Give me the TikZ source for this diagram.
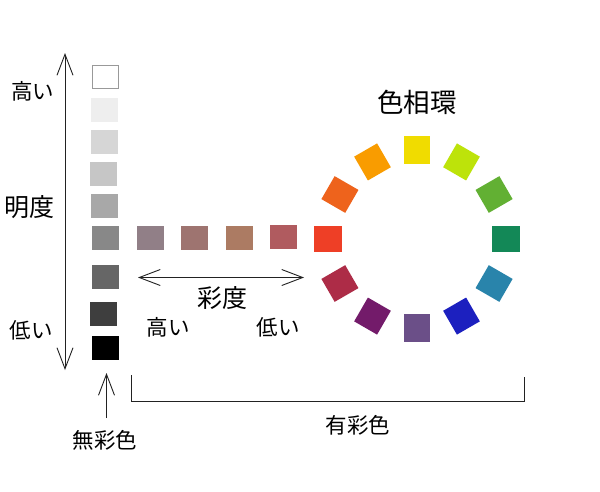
\documentclass[tikz,border=0pt]{standalone}
\usepackage{fontspec}
\newfontfamily\jp{Noto Sans CJK JP}
\usetikzlibrary{arrows.meta,calc}
\definecolor{g1}{HTML}{FFFFFF}
\definecolor{g2}{HTML}{EEEEEE}
\definecolor{g3}{HTML}{D6D6D6}
\definecolor{g4}{HTML}{C6C6C6}
\definecolor{g5}{HTML}{A8A8A8}
\definecolor{g6}{HTML}{888888}
\definecolor{g7}{HTML}{666666}
\definecolor{g8}{HTML}{3E3E3E}
\definecolor{g9}{HTML}{000000}
\definecolor{c1}{HTML}{917F87}
\definecolor{c2}{HTML}{9E7470}
\definecolor{c3}{HTML}{AC7B63}
\definecolor{c4}{HTML}{B05B5F}
\definecolor{h0}{HTML}{138857}
\definecolor{h30}{HTML}{62B033}
\definecolor{h60}{HTML}{BDE30A}
\definecolor{h90}{HTML}{F0DC00}
\definecolor{h120}{HTML}{F99C00}
\definecolor{h150}{HTML}{EE631C}
\definecolor{h180}{HTML}{EE3F26}
\definecolor{h210}{HTML}{AD2C47}
\definecolor{h240}{HTML}{731B6A}
\definecolor{h270}{HTML}{6B4F88}
\definecolor{h300}{HTML}{1C20BF}
\definecolor{h330}{HTML}{2984AB}
\definecolor{linec}{HTML}{222222}
\tikzset{
  graysq/.style={minimum width=27pt,minimum height=24pt,inner sep=0pt,draw=none},
  chromasq/.style={minimum width=27pt,minimum height=24pt,inner sep=0pt,draw=none},
  huesq/.style={minimum width=27.5pt,minimum height=26.5pt,inner sep=0pt,draw=none},
  lbl/.style={font=\jp\fontsize{21.5}{24}\selectfont,inner sep=0pt,text=black},
  biglbl/.style={font=\jp\fontsize{25}{28}\selectfont,inner sep=0pt,text=black},
  conn/.style={draw=linec,line width=0.9pt},
  barb/.tip={Straight Barb[length=21pt,width=16pt,line width=0.9pt]}
}
\begin{document}
\begin{tikzpicture}[x=1pt,y=1pt]
\useasboundingbox[fill=white] (0,-491) rectangle (600,0);
% gray column
\node[graysq,fill=g1,draw=black!40,line width=0.8pt,minimum width=26pt,minimum height=23pt] (s1) at (105.5,-76.5) {};
\node[graysq,fill=g2] (s2) at (104.5,-110) {};
\node[graysq,fill=g3] (s3) at (104.5,-142) {};
\node[graysq,fill=g4] (s4) at (103.5,-174) {};
\node[graysq,fill=g5] (s5) at (104.5,-206) {};
\node[graysq,fill=g6] (s6) at (105.5,-238) {};
\node[graysq,fill=g7] (s7) at (105.5,-276.5) {};
\node[graysq,fill=g8] (s8) at (103.5,-314) {};
\node[graysq,fill=g9] (s9) at (105.5,-348) {};
% lightness axis
\coordinate (vtop) at (65,-53);
\coordinate (vbot) at (65,-370);
\draw[conn,{barb}-{barb}] (vtop) -- (vbot);
\node[lbl] (hiL) at (33,-91) {高い};
\node[biglbl] (meido) at (30,-207) {明度};
\node[lbl] (loL) at (31,-330) {低い};
% chroma row
\node[chromasq,fill=c1] (k1) at (150.5,-237.5) {};
\node[chromasq,fill=c2] (k2) at (194.5,-237.5) {};
\node[chromasq,fill=c3] (k3) at (239.5,-237.5) {};
\node[chromasq,fill=c4] (k4) at (283,-237) {};
\coordinate (cl) at (138,-277.5);
\coordinate (cr) at (304,-277.5);
\draw[conn,{barb}-{barb}] (cl) -- (cr);
\node[biglbl] (saido) at (222,-298) {彩度};
\node[lbl] (hiC) at (168,-327) {高い};
\node[lbl] (loC) at (278,-327) {低い};
% hue ring
\coordinate (hc) at (417,-239);
\foreach \a in {0,30,...,330}{
  \node[huesq,fill=h\a,rotate=\a] (hue\a) at ($(hc)+(\a:89pt)$) {};
}
\node[biglbl,font=\jp\fontsize{26.5}{29}\selectfont] (shikiso) at (417,-102) {色相環};
% achromatic / chromatic
\node[lbl] (mu) at (105,-440) {無彩色};
\coordinate (mutail) at (106.5,-418);
\coordinate (mutip) at (106.5,-373);
\draw[conn,-{barb}] (mutail) -- (mutip);
\coordinate (bl) at (131.5,-375);
\coordinate (br) at (524,-377);
\draw[conn] (bl) |- (524,-401) coordinate (bcorner) -- (br);
\node[lbl] (yu) at (358,-425) {有彩色};
\end{tikzpicture}
\end{document}
